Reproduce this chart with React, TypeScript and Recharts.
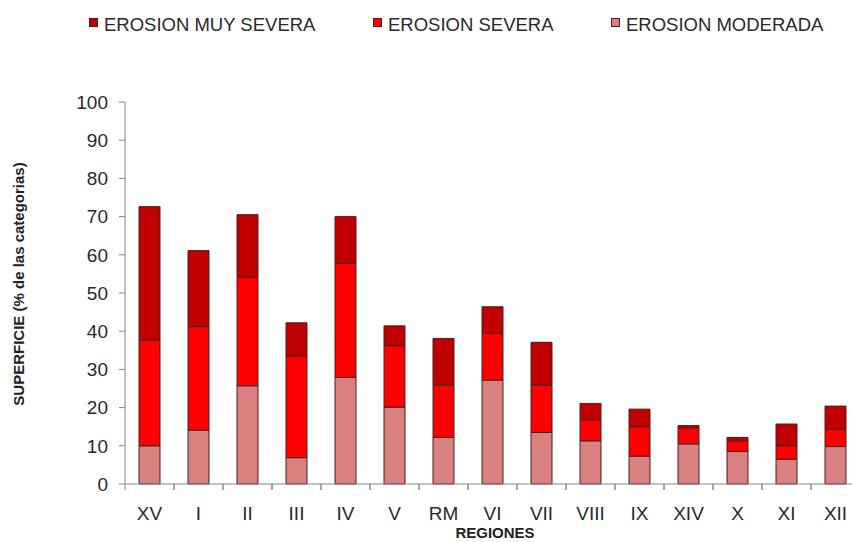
import { BarChart, Bar, XAxis, YAxis, Legend, Label } from "recharts";

const regiones = ["XV", "I", "II", "III", "IV", "V", "RM", "VI", "VII", "VIII", "IX", "XIV", "X", "XI", "XII"];
const moderada = [10, 14.1, 25.7, 6.9, 27.9, 20.1, 12.2, 27.2, 13.5, 11.3, 7.3, 10.5, 8.5, 6.5, 9.8];
const severa = [27.7, 27.1, 28.4, 26.6, 29.9, 16.1, 13.7, 12.2, 12.4, 5.5, 7.7, 4.2, 2.8, 3.5, 4.5];
const muySevera = [34.9, 19.9, 16.4, 8.7, 12.2, 5.2, 12.2, 7.0, 11.2, 4.3, 4.6, 0.6, 0.9, 5.7, 6.1];
const yTicks = [0, 10, 20, 30, 40, 50, 60, 70, 80, 90, 100];

const data = regiones.map((r, i) => ({
  region: r,
  moderada: moderada[i],
  severa: severa[i],
  muySevera: muySevera[i],
}));

const FONT = "'Liberation Sans', Arial, sans-serif";
const COLORS = { muySevera: "#c00000", severa: "#ff0000", moderada: "#d98080" };
const EDGE = "#4a2020";

const legendItems = [
  { label: "EROSION MUY SEVERA", color: COLORS.muySevera, left: 89 },
  { label: "EROSION SEVERA", color: COLORS.severa, left: 373 },
  { label: "EROSION MODERADA", color: COLORS.moderada, left: 611 },
];

function LegendBox() {
  return (
    <div style={{ position: "relative", width: 852, height: 40 }}>
      {legendItems.map((it) => (
        <div key={it.label}>
          <div
            style={{
              position: "absolute",
              left: it.left,
              top: 18,
              width: 7,
              height: 7,
              background: it.color,
              border: `1px solid ${EDGE}`,
            }}
          />
          <div
            style={{
              position: "absolute",
              left: it.left + 15,
              top: 15,
              fontFamily: FONT,
              fontSize: 18.5,
              lineHeight: "20px",
              color: "#2a2a2a",
              whiteSpace: "nowrap",
            }}
          >
            {it.label}
          </div>
        </div>
      ))}
    </div>
  );
}

function RegionTick(props: any) {
  const { x, y, payload } = props;
  const axisY = y - 8;
  const half = 24.5;
  return (
    <g>
      <line x1={x - half} y1={axisY} x2={x - half} y2={axisY + 6} stroke="#888" />
      <line x1={x + half} y1={axisY} x2={x + half} y2={axisY + 6} stroke="#888" />
      <text x={x} y={y + 28} textAnchor="middle" fontFamily={FONT} fontSize={19} fill="#2a2a2a">
        {payload.value}
      </text>
    </g>
  );
}

export default function App() {
  return (
    <div style={{ width: 852, height: 542, overflow: "hidden", position: "relative", background: "#fff" }}>
      <style>{"html,body{margin:0;padding:0;overflow:hidden}#root{overflow:visible}"}</style>
      <BarChart
        width={870}
        height={542}
        data={data}
        margin={{ top: 102, right: 10, left: 0, bottom: 0 }}
        barCategoryGap={0}
      >
        <Legend
          layout="horizontal"
          verticalAlign="middle"
          align="center"
          wrapperStyle={{ top: 0, left: 0, width: 852 }}
          content={() => <LegendBox />}
        />
        <XAxis
          dataKey="region"
          height={58}
          tickLine={false}
          axisLine={{ stroke: "#888" }}
          tick={<RegionTick />}
          interval={0}
        >
          <Label
            content={() => (
              <text x={495} y={538} textAnchor="middle" fontFamily={FONT} fontSize={15} fontWeight="bold" fill="#222">
                REGIONES
              </text>
            )}
          />
        </XAxis>
        <YAxis
          width={125}
          domain={[0, 100]}
          ticks={yTicks}
          interval={0}
          tickSize={6}
          tickMargin={11}
          axisLine={{ stroke: "#888" }}
          tickLine={{ stroke: "#888" }}
          tick={{ fontFamily: FONT, fontSize: 19, fill: "#2a2a2a" }}
        >
          <Label
            content={() => (
              <text
                x={24}
                y={284}
                textAnchor="middle"
                transform="rotate(-90, 24, 284)"
                fontFamily={FONT}
                fontSize={15}
                fontWeight="bold"
                fill="#222"
              >
                SUPERFICIE (% de las categorias)
              </text>
            )}
          />
        </YAxis>
        <Bar dataKey="moderada" stackId="a" fill={COLORS.moderada} stroke={EDGE} strokeWidth={1} barSize={21} isAnimationActive={false} />
        <Bar dataKey="severa" stackId="a" fill={COLORS.severa} stroke={EDGE} strokeWidth={1} barSize={21} isAnimationActive={false} />
        <Bar dataKey="muySevera" stackId="a" fill={COLORS.muySevera} stroke={EDGE} strokeWidth={1} barSize={21} isAnimationActive={false} />
      </BarChart>
    </div>
  );
}
